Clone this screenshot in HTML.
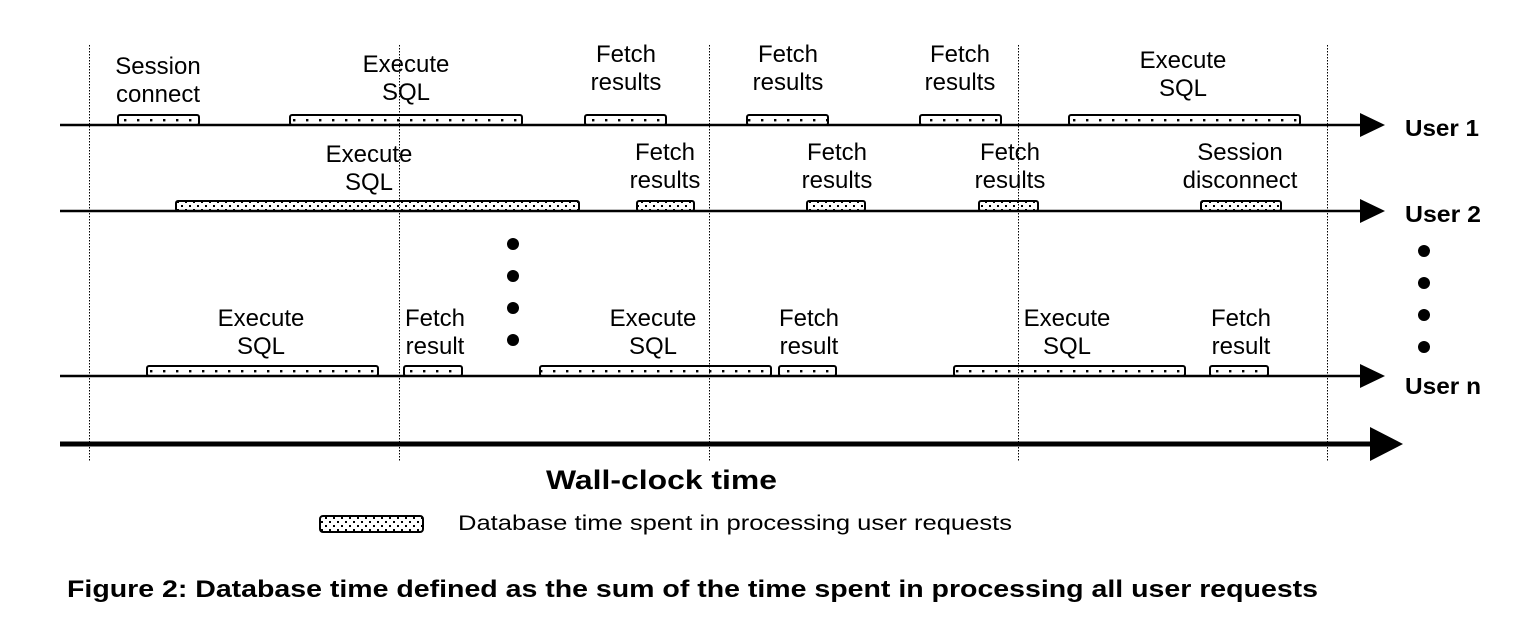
<!DOCTYPE html>
<html><head><meta charset="utf-8"><style>
html,body{margin:0;padding:0;background:#fff;}
svg{display:block;}
text{font-family:"Liberation Sans",Arial,sans-serif;fill:#000;}
.l{font-size:24px;text-anchor:middle;}
.b{font-weight:bold;}
</style></head><body>
<svg width="1520" height="632" viewBox="0 0 1520 632" xmlns="http://www.w3.org/2000/svg">
<defs>
<pattern id="d1" x="2" y="116" width="13" height="10" patternUnits="userSpaceOnUse">
<rect x="5" y="3" width="2.4" height="2.4" fill="#000"/>
</pattern>
<pattern id="dn" x="2" y="367" width="13" height="10" patternUnits="userSpaceOnUse">
<rect x="5" y="3" width="2.4" height="2.4" fill="#000"/>
</pattern>
<pattern id="d2" x="0" y="0" width="8" height="8" patternUnits="userSpaceOnUse">
<rect x="1" y="1" width="2" height="2" fill="#000"/><rect x="5" y="5" width="2" height="2" fill="#000"/>
</pattern>
</defs>
<g stroke="#000" stroke-width="1" stroke-dasharray="1.5,1.5">
<line x1="89.5" y1="45" x2="89.5" y2="462"/>
<line x1="399.5" y1="45" x2="399.5" y2="462"/>
<line x1="709.5" y1="45" x2="709.5" y2="462"/>
<line x1="1018.5" y1="45" x2="1018.5" y2="462"/>
<line x1="1327.5" y1="45" x2="1327.5" y2="462"/>
</g>
<g stroke="#000" stroke-width="2.5">
<line x1="60" y1="125" x2="1362" y2="125"/>
<line x1="60" y1="211" x2="1362" y2="211"/>
<line x1="60" y1="376" x2="1362" y2="376"/>
</g>
<line x1="60" y1="444" x2="1372" y2="444" stroke="#000" stroke-width="5"/>
<polygon points="1360,113 1385,125 1360,137" fill="#000"/>
<polygon points="1360,199 1385,211 1360,223" fill="#000"/>
<polygon points="1360,364 1385,376 1360,388" fill="#000"/>
<polygon points="1370,427 1403,444 1370,461" fill="#000"/>
<g fill="url(#d1)" stroke="#000" stroke-width="2">
<rect x="118" y="115" width="81" height="10" rx="2"/>
<rect x="290" y="115" width="232" height="10" rx="2"/>
<rect x="585" y="115" width="81" height="10" rx="2"/>
<rect x="747" y="115" width="81" height="10" rx="2"/>
<rect x="920" y="115" width="81" height="10" rx="2"/>
<rect x="1069" y="115" width="231" height="10" rx="2"/>
</g>
<g fill="url(#d2)" stroke="#000" stroke-width="2">
<rect x="176" y="201" width="403" height="10" rx="2"/>
<rect x="637" y="201" width="57" height="10" rx="2"/>
<rect x="807" y="201" width="58" height="10" rx="2"/>
<rect x="979" y="201" width="59" height="10" rx="2"/>
<rect x="1201" y="201" width="80" height="10" rx="2"/>
</g>
<g fill="url(#dn)" stroke="#000" stroke-width="2">
<rect x="147" y="366" width="231" height="10" rx="2"/>
<rect x="404" y="366" width="58" height="10" rx="2"/>
<rect x="540" y="366" width="231" height="10" rx="2"/>
<rect x="779" y="366" width="57" height="10" rx="2"/>
<rect x="954" y="366" width="231" height="10" rx="2"/>
<rect x="1210" y="366" width="58" height="10" rx="2"/>
</g>
<rect x="320" y="516" width="103" height="16" rx="3" fill="url(#d2)" stroke="#000" stroke-width="2"/>
<text class="l" x="158" y="74">Session</text><text class="l" x="158" y="102">connect</text>
<text class="l" x="406" y="72">Execute</text><text class="l" x="406" y="100">SQL</text>
<text class="l" x="626" y="62">Fetch</text><text class="l" x="626" y="90">results</text>
<text class="l" x="788" y="62">Fetch</text><text class="l" x="788" y="90">results</text>
<text class="l" x="960" y="62">Fetch</text><text class="l" x="960" y="90">results</text>
<text class="l" x="1183" y="68">Execute</text><text class="l" x="1183" y="96">SQL</text>
<text class="l" x="369" y="162">Execute</text><text class="l" x="369" y="190">SQL</text>
<text class="l" x="665" y="160">Fetch</text><text class="l" x="665" y="188">results</text>
<text class="l" x="837" y="160">Fetch</text><text class="l" x="837" y="188">results</text>
<text class="l" x="1010" y="160">Fetch</text><text class="l" x="1010" y="188">results</text>
<text class="l" x="1240" y="160">Session</text><text class="l" x="1240" y="188">disconnect</text>
<text class="l" x="261" y="326">Execute</text><text class="l" x="261" y="354">SQL</text>
<text class="l" x="435" y="326">Fetch</text><text class="l" x="435" y="354">result</text>
<text class="l" x="653" y="326">Execute</text><text class="l" x="653" y="354">SQL</text>
<text class="l" x="809" y="326">Fetch</text><text class="l" x="809" y="354">result</text>
<text class="l" x="1067" y="326">Execute</text><text class="l" x="1067" y="354">SQL</text>
<text class="l" x="1241" y="326">Fetch</text><text class="l" x="1241" y="354">result</text>
<g fill="#000">
<circle cx="513" cy="244" r="6"/><circle cx="513" cy="276" r="6"/><circle cx="513" cy="308" r="6"/><circle cx="513" cy="340" r="6"/>
<circle cx="1424" cy="251" r="6"/><circle cx="1424" cy="283" r="6"/><circle cx="1424" cy="315" r="6"/><circle cx="1424" cy="347" r="6"/>
</g>
<text class="b" x="1405" y="136" font-size="23" textLength="74" lengthAdjust="spacingAndGlyphs">User 1</text>
<text class="b" x="1405" y="222" font-size="23" textLength="76" lengthAdjust="spacingAndGlyphs">User 2</text>
<text class="b" x="1405" y="394" font-size="23" textLength="76" lengthAdjust="spacingAndGlyphs">User n</text>
<text class="b" x="546" y="489" font-size="27" textLength="231" lengthAdjust="spacingAndGlyphs">Wall-clock time</text>
<text x="458" y="530" font-size="21" textLength="554" lengthAdjust="spacingAndGlyphs">Database time spent in processing user requests</text>
<text class="b" x="67" y="597" font-size="24" textLength="1251" lengthAdjust="spacingAndGlyphs">Figure 2: Database time defined as the sum of the time spent in processing all user requests</text>
</svg>
</body></html>
